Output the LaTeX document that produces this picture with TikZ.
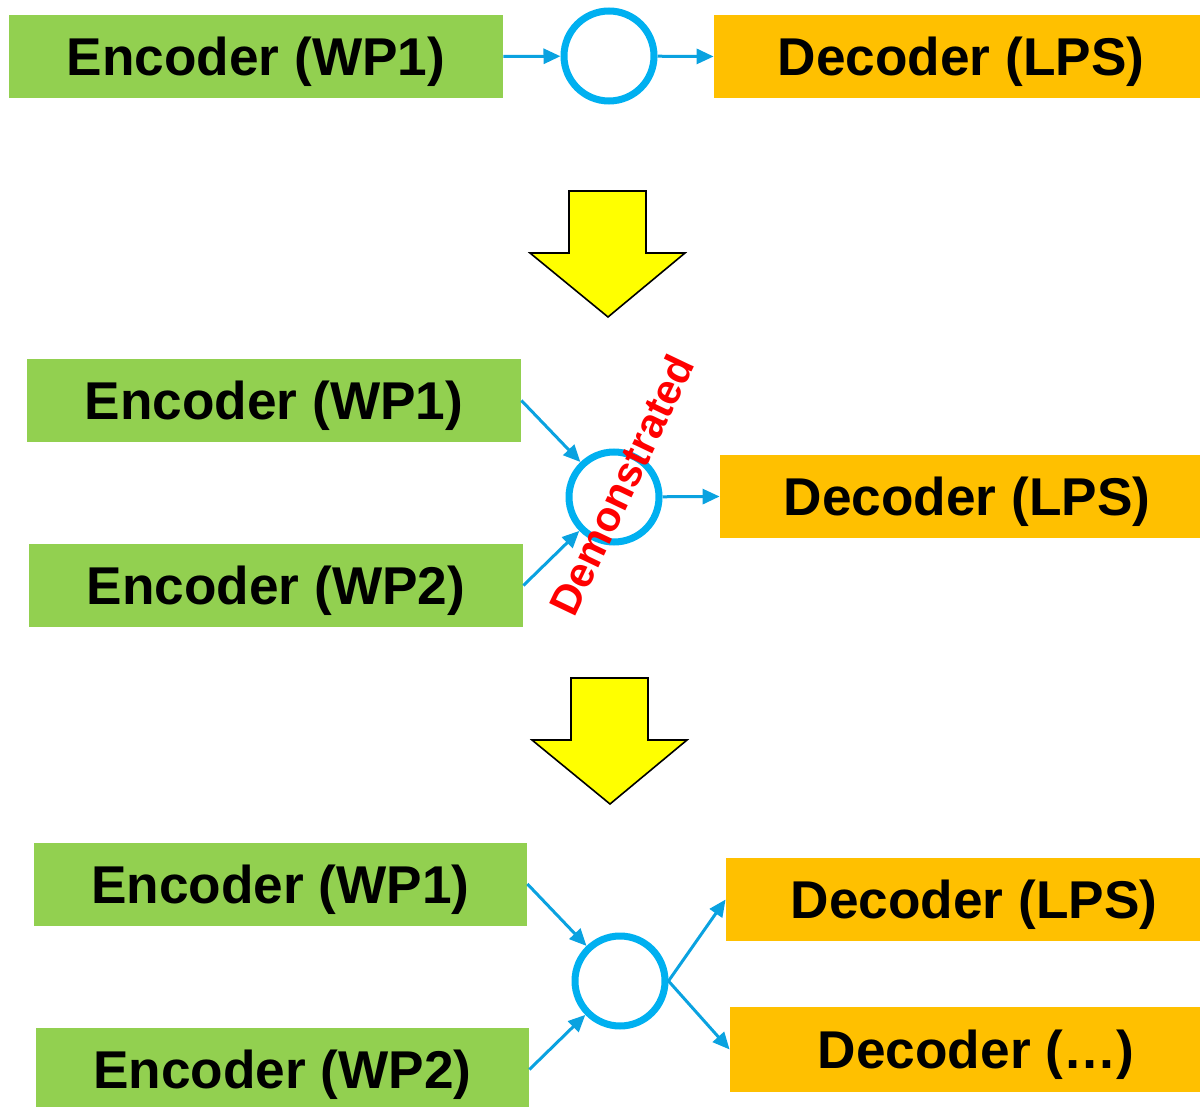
\documentclass[tikz,border=0pt]{standalone}
\usepackage{fontspec}
\setmainfont{Liberation Sans}
\usetikzlibrary{arrows.meta}
\definecolor{boxgreen}{HTML}{92D050}
\definecolor{boxorange}{HTML}{FFC000}
\definecolor{ringblue}{HTML}{00B0F0}
\definecolor{linkblue}{HTML}{0AA2E0}
\definecolor{bigyellow}{HTML}{FFFF00}
\begin{document}
\begin{tikzpicture}[x=0.5pt,y=-0.5pt,
  lbl/.style={font=\fontsize{26.6}{32}\selectfont\bfseries, text=black, inner sep=0pt,
    text height=19.1pt, text depth=0pt},
  encbox/.style={lbl, fill=boxgreen, minimum height=41.5pt},
  decbox/.style={lbl, fill=boxorange, minimum height=41.5pt},
  ring/.style={circle, draw=ringblue, line width=3.5pt, minimum size=45pt, inner sep=0pt},
  link/.style={draw=linkblue, line width=1.5pt, -{Triangle[length=8.5pt,width=7.5pt]}},
  downarrow/.style={fill=bigyellow, draw=black, line width=0.8pt, line join=miter}
]
\useasboundingbox (0,0) rectangle (1200,1107);
\clip (0,0) rectangle (1200,1107);

% ---- stage 1
\node[encbox, minimum width=247pt] (e11) at (256,56.5) {Encoder (WP1)};
\node[ring] (c1) at (609,56) {};
\node[decbox, minimum width=247pt] (d11) at (961,56.5) {Decoder (LPS)};
\draw[link] (e11.east) -- (c1);
\draw[link] (c1) -- (d11.west);

% ---- arrow 1
\draw[downarrow] (569,191) -- (646,191) -- (646,253) -- (685,253) -- (608,317) -- (530,253) -- (569,253) -- cycle;

% ---- stage 2
\node[encbox, minimum width=247pt] (e21) at (274,400.5) {Encoder (WP1)};
\node[encbox, minimum width=247pt] (e22) at (276,585.5) {Encoder (WP2)};
\node[ring] (c2) at (614,497) {};
\node[decbox, minimum width=247pt] (d21) at (967,496.5) {Decoder (LPS)};
\draw[link] (e21.east) -- (c2);
\draw[link] (e22.east) -- (c2);
\draw[link] (c2) -- (d21.west);
\node[font=\fontsize{21}{25}\selectfont\bfseries, text=red, inner sep=0pt, rotate=64.5] (demo) at (621.5,485) {Demonstrated};

% ---- arrow 2
\draw[downarrow] (571,678) -- (648,678) -- (648,740) -- (687,740) -- (610,804) -- (532,740) -- (571,740) -- cycle;

% ---- stage 3
\node[encbox, minimum width=246.5pt] (e31) at (280.5,884) {Encoder (WP1)};
\node[encbox, minimum width=246.5pt] (e32) at (282.5,1069.5) {Encoder (WP2)};
\node[ring] (c3) at (620,981) {};
\node[decbox, minimum width=248pt] (d31) at (974,899.5) {Decoder (LPS)};
\node[decbox, minimum width=246pt, minimum height=42.5pt] (d32) at (976,1049.5) {Decoder (\ldots)};
\draw[link] (e31.east) -- (c3);
\draw[link] (e32.east) -- (c3);
\draw[link] (c3.east) -- (d31.west);
\draw[link] (c3.east) -- (d32.west);
\end{tikzpicture}
\end{document}
